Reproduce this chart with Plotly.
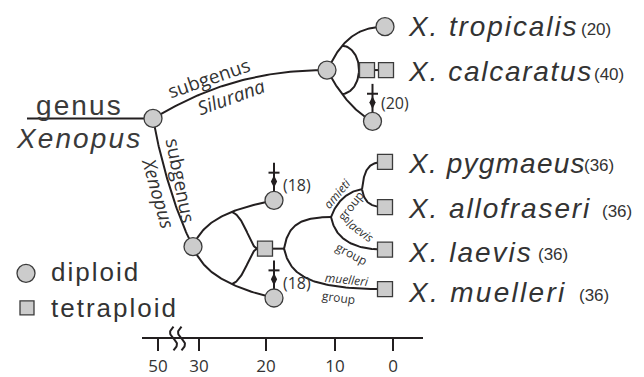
import numpy as np
import plotly.graph_objects as go

W, H = 644, 377

# ---------------- data ----------------
species = ["X. tropicalis", "X. calcaratus", "X. pygmaeus",
           "X. allofraseri", "X. laevis", "X. muelleri"]
chromosomes = ["(20)", "(40)", "(36)", "(36)", "(36)", "(36)"]
species_tips = ["trop", "calc2", "pyg", "allof", "laev", "muel"]
extinct_nodes = ["ext_s", "ext_x1", "ext_x2"]
extinct_chromosomes = ["(20)", "(18)", "(18)"]
tick_labels = ["50", "30", "20", "10", "0"]
tick_vals = [158, 199, 266, 335, 393]
legend_labels = ["diploid", "tetraploid"]

# tree nodes (x in time-axis units, y in row units)
node_names = ["root", "sil", "trop", "calc1", "calc2", "ext_s", "xen", "ext_x1",
              "ext_x2", "allo", "split", "ami", "ami2", "pyg", "allof", "laev", "muel"]
node_x = [153, 327, 385, 367, 386, 372.5, 193, 274, 274, 265, 284, 331, 362, 385, 385, 385, 385]
node_y = [120, 71, 27, 71, 71, 123, 250, 203, 302, 252, 252, 220, 192, 164, 210, 253, 293]
node_kind = ["d", "d", "d", "t", "t", "d", "d", "d", "d", "t", "", "", "", "t", "t", "t", "t"]

# branches: parent, child, curve shape (fractions for bezier controls)
edges = [
    ("root", "sil", (0.27, 0.57, 0.56, 1.0)),
    ("sil", "trop", (0.19, 0.48, 0.40, 1.0)),
    ("sil", "ext_s", (0.24, 0.40, 0.56, 0.79)),
    ("root", "xen", (0.175, 0.31, 0.55, 0.73)),
    ("xen", "ext_x1", (0.12, 0.53, 0.40, 0.79)),
    ("xen", "ext_x2", (0.12, 0.48, 0.40, 0.77)),
    ("split", "ami", (0.085, 0.75, 0.34, 1.0)),
    ("split", "muel", (0.06, 0.68, 0.26, 1.0)),
    ("ami", "ami2", (0.16, 0.54, 0.55, 0.96)),
    ("ami", "laev", (0.074, 0.61, 0.35, 1.0)),
    ("ami2", "pyg", (0.087, 0.71, 0.26, 1.0)),
    ("ami2", "allof", (0.087, 0.61, 0.26, 1.0)),
]

# ---------------- style ----------------
INK = "#231f20"
TXT = "#333333"
FILL = "#cccccc"
EDGE = "#3b3b3b"
LW = 2

pos = {n: np.array([x, y], dtype=float) for n, x, y in zip(node_names, node_x, node_y)}


def bez_ctrl(a, b, f):
    p0, p3 = pos[a], pos[b]
    d = p3 - p0
    p1 = p0 + np.array([f[0] * d[0], f[1] * d[1]])
    p2 = p0 + np.array([f[2] * d[0], f[3] * d[1]])
    return p0, p1, p2, p3


def bez(p0, p1, p2, p3, t):
    t = np.asarray(t, dtype=float)[..., None]
    return ((1 - t) ** 3) * p0 + 3 * ((1 - t) ** 2) * t * p1 + 3 * (1 - t) * t ** 2 * p2 + t ** 3 * p3


seg_x, seg_y = [], []


def add_seg(xs, ys):
    seg_x.extend([float(v) for v in xs] + [None])
    seg_y.extend([float(v) for v in ys] + [None])


ctrl = {}
for a, b, f in edges:
    c = bez_ctrl(a, b, f)
    ctrl[(a, b)] = c
    pts = bez(*c, np.linspace(0, 1, 60))
    add_seg(pts[:, 0], pts[:, 1])

# genus stem
add_seg([27, pos["root"][0]], [pos["root"][1], pos["root"][1]])
# allotetraploid to split, calcaratus squares link
add_seg([pos["allo"][0], pos["split"][0]], [pos["allo"][1], pos["split"][1]])
add_seg([pos["calc1"][0], pos["calc2"][0]], [pos["calc1"][1], pos["calc2"][1]])

# reticulation (Silurana): arc between the two branches into the square
top = bez(*ctrl[("sil", "trop")], 0.4)
bot = bez(*ctrl[("sil", "ext_s")], 0.4)
cx = (top[0] + bot[0]) / 2
cy = (top[1] + bot[1]) / 2
ry = (bot[1] - top[1]) / 2
rx = pos["calc1"][0] - 8 - cx
th = np.linspace(-np.pi / 2, np.pi / 2, 50)
add_seg(cx + rx * np.cos(th), cy + ry * np.sin(th))

# reticulation (Xenopus): curves from both diploid branches into the square
sq = pos["allo"] - np.array([7.5, 0])
for br in [("xen", "ext_x1"), ("xen", "ext_x2")]:
    p0 = bez(*ctrl[br], 0.65)
    d = sq - p0
    p1 = p0 + np.array([0.52 * d[0], 0.14 * d[1]])
    p2 = p0 + np.array([0.72 * d[0], 1.0 * d[1]])
    pts = bez(p0, p1, p2, sq, np.linspace(0, 1, 40))
    add_seg(pts[:, 0], pts[:, 1])

# daggers
dag_x, dag_y = [], []
for n in extinct_nodes:
    x, y = pos[n]
    add_seg([x, x], [y - 9, y - 38])
    add_seg([x - 5.5, x + 5.5], [y - 28, y - 28])
    dag_x.append(float(x))
    dag_y.append(float(y - 19))

# axis break marks
for bx in [173.5, 181.5]:
    yy = np.linspace(331, 355, 40)
    s = (yy - 331) / 24
    add_seg(bx - 3.5 * np.sin(2 * np.pi * s), yy)

fig = go.Figure()
fig.add_trace(go.Scatter(x=seg_x, y=seg_y, mode="lines",
                         line=dict(color=INK, width=LW),
                         hoverinfo="skip", showlegend=False))
fig.add_trace(go.Scatter(x=dag_x, y=dag_y, mode="markers",
                         marker=dict(symbol="diamond-tall", size=9, color=INK),
                         hoverinfo="skip", showlegend=False))

dip = [n for n, k in zip(node_names, node_kind) if k == "d"]
tet = [n for n, k in zip(node_names, node_kind) if k == "t"]
fig.add_trace(go.Scatter(x=[float(pos[n][0]) for n in dip], y=[float(pos[n][1]) for n in dip],
                         mode="markers",
                         marker=dict(symbol="circle", size=18, color=FILL,
                                     line=dict(color=EDGE, width=1.3)),
                         hoverinfo="skip", showlegend=False))
fig.add_trace(go.Scatter(x=[float(pos[n][0]) for n in tet], y=[float(pos[n][1]) for n in tet],
                         mode="markers",
                         marker=dict(symbol="square", size=15, color=FILL,
                                     line=dict(color=EDGE, width=1.3)),
                         hoverinfo="skip", showlegend=False))
# legend symbols
fig.add_trace(go.Scatter(x=[26], y=[277], mode="markers",
                         marker=dict(symbol="circle", size=18, color=FILL,
                                     line=dict(color=EDGE, width=1.3)),
                         hoverinfo="skip", showlegend=False))
fig.add_trace(go.Scatter(x=[27], y=[312], mode="markers",
                         marker=dict(symbol="square", size=14, color=FILL,
                                     line=dict(color=EDGE, width=1.3)),
                         hoverinfo="skip", showlegend=False))

axis_left, axis_right, axis_y = 141.7, 423, 342.7
fig.add_trace(go.Scatter(x=[tick_vals[0]], y=[axis_y], xaxis="x2", yaxis="y",
                         mode="markers", marker=dict(opacity=0),
                         hoverinfo="skip", showlegend=False))


def txt(s, x, y, size, family, italic=False, angle=0, xanchor="center",
        yanchor="middle", spacing=None, color=TXT):
    if spacing:
        s = '<span style="letter-spacing:%spx">%s</span>' % (spacing, s)
    fig.add_annotation(x=x, y=y, xref="x", yref="y", text=s, showarrow=False,
                       textangle=angle, xanchor=xanchor, yanchor=yanchor,
                       borderpad=0,
                       font=dict(family=family, size=size, color=color,
                                 style="italic" if italic else "normal"))


SANS = "Liberation Sans"
MYR = "Open Sans"

# genus label
txt("genus", 35, 107, 28, SANS, xanchor="left", spacing=2.1, color="#3a3a3a")
txt("Xenopus", 15, 140.5, 28, SANS, italic=True, xanchor="left", spacing=2.1, color="#3a3a3a")

# species + chromosome numbers
sp_base = [35, 80, 173, 219, 263.3, 304]
sp_spacing = [1.9, 1.7, 1.2, 1.9, 2.0, 2.3]
cnt_x = [580, 593, 583, 601, 537, 578]
for name, cnt, b, cxx, sps in zip(species, chromosomes, sp_base, cnt_x, sp_spacing):
    txt(name, 407, b - 7.8, 28, SANS, italic=True, xanchor="left", spacing=sps)
    txt(cnt, cxx, b - 5, 17, SANS, xanchor="left")

# extinct lineage chromosome numbers
ext_lab_xy = [(380, 104), (282, 187), (282, 287)]
for lab, (x, y) in zip(extinct_chromosomes, ext_lab_xy):
    txt(lab, x, y, 16, MYR, xanchor="left")

# legend
txt(legend_labels[0], 50, 276, 26, SANS, xanchor="left", spacing=2.0)
txt(legend_labels[1], 50, 312.5, 26, SANS, xanchor="left", spacing=2.0)

# subgenus labels
txt("subgenus", 209, 79, 19, MYR, angle=-19)
txt("Silurana", 231, 98, 19, MYR, italic=True, angle=-20)
txt("subgenus", 181, 183, 19, MYR, angle=79)
txt("Xenopus", 158, 196, 19, MYR, italic=True, angle=74)

# group labels
txt("amieti", 337, 196, 12, MYR, italic=True, angle=-50)
txt("group", 350, 209, 12, MYR, angle=-52)
txt("laevis", 360, 234, 12, MYR, italic=True, angle=36)
txt("group", 351, 257, 12, MYR, angle=28)
txt("muelleri", 347, 283, 12, MYR, italic=True, angle=6)
txt("group", 338, 301, 12, MYR, angle=8)

fig.update_layout(
    width=W, height=H, margin=dict(l=0, r=0, t=0, b=0),
    paper_bgcolor="white", plot_bgcolor="rgba(0,0,0,0)", showlegend=False,
    xaxis=dict(range=[0, W], visible=False, fixedrange=True),
    yaxis=dict(range=[H, 0], visible=False, fixedrange=True),
    xaxis2=dict(domain=[axis_left / W, axis_right / W], range=[axis_left, axis_right],
                anchor="free", position=1 - axis_y / H,
                showline=True, linecolor=INK, linewidth=2.3,
                ticks="outside", ticklen=12, tickwidth=2, tickcolor=INK,
                tickvals=tick_vals, ticktext=tick_labels,
                tickfont=dict(family=MYR, size=17, color=TXT),
                showgrid=False, zeroline=False, fixedrange=True),
)

fig.write_html("out.html", config={"displayModeBar": False},
               post_script="document.body.style.margin='0px';")
